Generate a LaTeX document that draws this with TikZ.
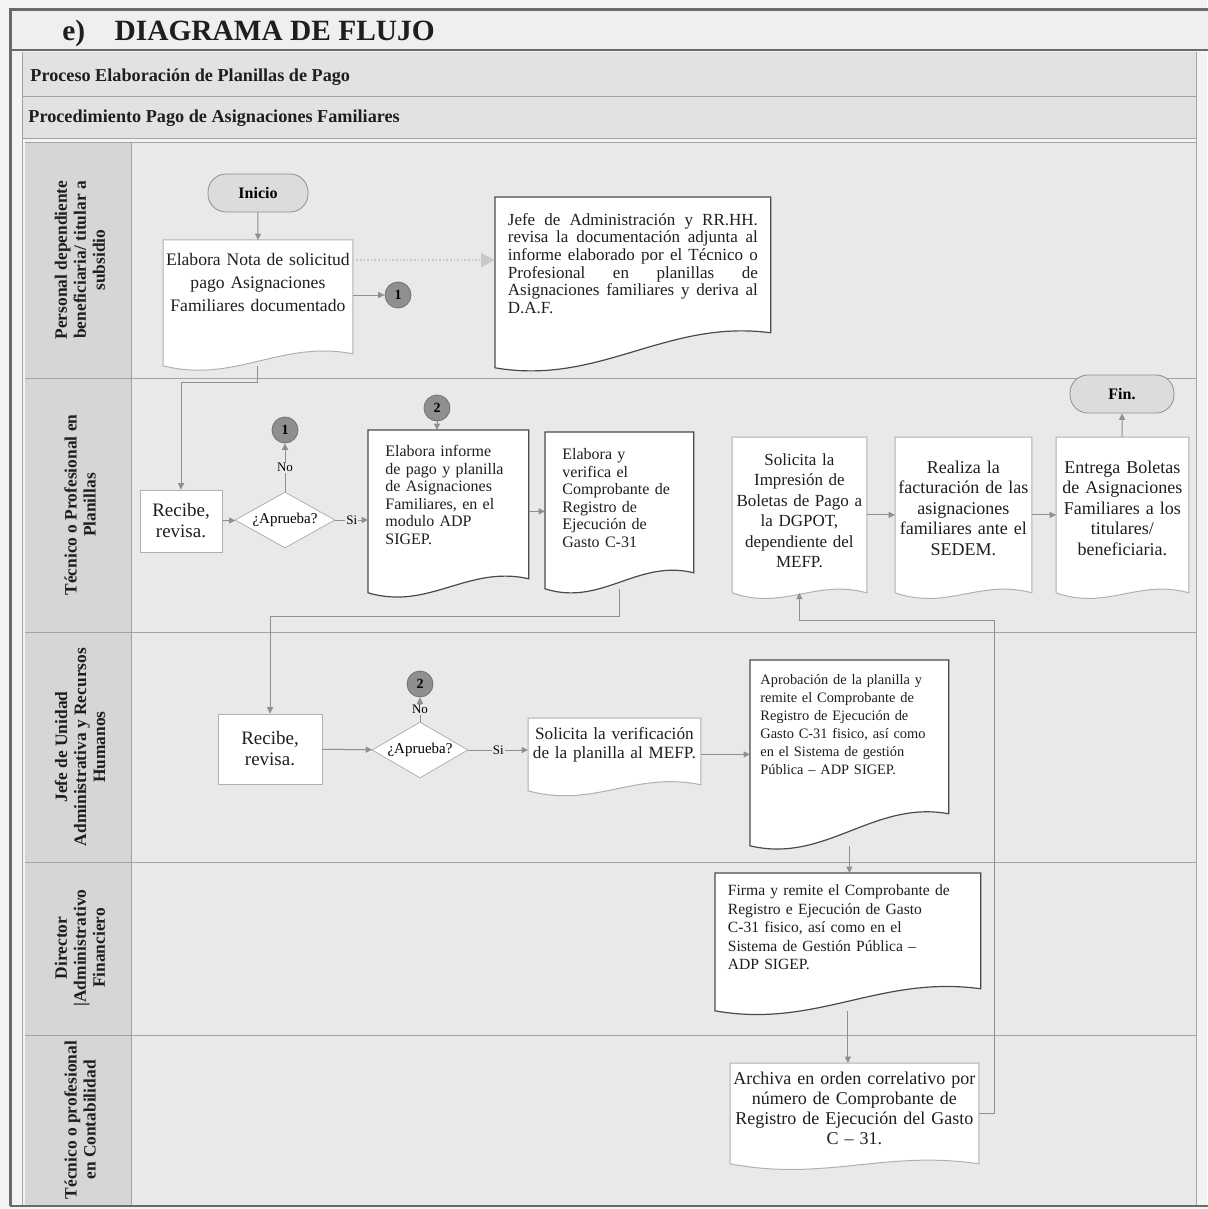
\documentclass[tikz,border=0pt]{standalone}
\usepackage{fontspec}
\setmainfont{Liberation Serif}
\usetikzlibrary{arrows.meta,positioning,calc,shapes.geometric}
\definecolor{pagebg}{HTML}{F3F3F3}
\definecolor{lanebg}{HTML}{E9E9E9}
\definecolor{headbg}{HTML}{D6D6D6}
\definecolor{rowbg}{HTML}{E2E2E2}
\definecolor{titlebg}{HTML}{EFEFEF}
\definecolor{rule}{HTML}{A3A3A3}
\definecolor{frame}{HTML}{6A6A6A}
\definecolor{ink}{HTML}{1E1E1E}
\definecolor{edge}{HTML}{4A4A4A}
\definecolor{soft}{HTML}{B0B0B0}
\definecolor{conn}{HTML}{8F8F8F}
\definecolor{term}{HTML}{DCDCDC}
\pgfdeclarelayer{lanes}
\pgfdeclarelayer{shapes}
\pgfsetlayers{lanes,shapes,main}
\newcommand{\fsz}[2]{\fontsize{#1}{#2}\selectfont}
% document outline behind a node: style, node, lift of the right end
\newcommand{\docu}[3]{%
  \draw[#1] (#2.north west) -- (#2.north east) -- ([yshift=#3]#2.south east)
    .. controls ($(#2.south west)!0.62!(#2.south east)+(0,#3+7pt)$)
    and ($(#2.south west)!0.38!(#2.south east)+(0,-9pt)$) .. (#2.south west) -- cycle;}

\begin{document}
\begin{tikzpicture}[x=0.5pt, y=-0.5pt,
  docdark/.style={draw=edge, fill=white, line width=0.6pt},
  doclight/.style={draw=soft, fill=white, line width=0.5pt},
  docbox/.style={inner sep=0pt, anchor=north west, text=ink},
  term/.style={draw=conn, fill=term, rounded corners=9pt, minimum width=50pt, minimum height=19pt, font=\bfseries\fsz{8}{9}},
  joint/.style={circle, draw=conn!80!black, fill=conn, minimum size=13pt, inner sep=0pt, font=\bfseries\fsz{7}{8}},
  plain/.style={draw=soft, fill=white, minimum width=41pt, minimum height=31pt, align=center, font=\fsz{9.5}{10.5}, text=ink},
  ask/.style={diamond, draw=soft, fill=white, inner sep=0pt, aspect=1.8, minimum width=50pt, minimum height=28pt, font=\fsz{7.5}{8}},
  arr/.style={-{Triangle[length=3.2pt,width=3pt]}, draw=conn, line width=0.5pt},
  faint/.style={-{Triangle[length=7pt,width=7pt]}, draw=soft!70, densely dotted, line width=0.8pt},
  lab/.style={font=\fsz{6.5}{7}, fill=lanebg, inner sep=0.5pt},
  lane/.style={rotate=90, align=center, font=\bfseries\fsz{8.7}{9.5}, text=ink},
  head/.style={anchor=west, inner sep=0pt, font=\bfseries\fsz{9.1}{10}, text=ink}]
  \useasboundingbox (0,0) rectangle (1207,1209);
  % sheet, rows and swimlanes
  \begin{pgfonlayer}{lanes}
    \fill[pagebg] (0,0) rectangle (1207,1209);
    \fill[titlebg] (10,10) rectangle (1210,50);
    \fill[rowbg] (22,52) rectangle (1196,138);
    \fill[lanebg] (131,142) rectangle (1196,1205);
    \fill[headbg] (25,142) rectangle (131,1205);
    \draw[rule] (22,96) -- (1196,96);
    \draw[rule] (22,138) -- (1196,138);
    \foreach \y in {142,378,632,862,1035}
      \draw[rule] (25,\y) -- (1196,\y);
    \draw[rule] (22,52) -- (22,1205);
    \draw[rule] (131,142) -- (131,1205);
    \draw[rule] (1196,52) -- (1196,1205);
    \draw[frame, line width=1.5pt] (10,1206) -- (10,10) -- (1210,10);
    \draw[frame, line width=1.2pt] (10,50) -- (1210,50);
    \draw[frame, line width=1pt] (10,1206) -- (1210,1206);
  \end{pgfonlayer}

  \node[head, font=\bfseries\fsz{14.7}{16}] (title) at (62,33) {e)\quad DIAGRAMA DE FLUJO};
  \node[head] (proc) at (30,77) {Proceso Elaboración de Planillas de Pago};
  \node[head] (pmto) at (28,118) {Procedimiento Pago de Asignaciones Familiares};

  \node[lane] (lp1) at (80,260) {Personal dependiente\\beneficiaria/ titular a\\subsidio};
  \node[lane] (lp2) at (80,505) {Técnico o Profesional en\\Planillas};
  \node[lane] (lp3) at (80,747) {Jefe de Unidad\\Administrativa y Recursos\\Humanos};
  \node[lane] (lp4) at (80,948) {Director\\|Administrativo\\Financiero};
  \node[lane] (lp5) at (80,1120) {Técnico o profesional\\en Contabilidad};

  % lane 1
  \node[term] (ini) at (258,193) {Inicio};
  \node[docbox, text width=94.5pt, text height=12.5pt, text depth=50pt, align=center, font=\fsz{8.8}{11.5}] (nota) at (163,240) {Elabora Nota de solicitud\\pago Asignaciones\\Familiares documentado};
  \node[joint] (j1) at (398,295) {1};
  \node[docbox, minimum width=137.5pt, text width=125pt, text height=14pt, text depth=71pt, align=justify, font=\fsz{8.5}{8.8}] (adm) at (495,197) {Jefe de Administración y RR.HH.\linebreak revisa la documentación adjunta al\linebreak informe elaborado por el Técnico o\linebreak Profesional en planillas de\linebreak Asignaciones familiares y deriva al\linebreak D.A.F.};

  % lane 2
  \node[plain] (rec1) at (181,521) {Recibe,\\revisa.};
  \node[ask] (ask1) at (285,520) {¿Aprueba?};
  \node[joint] (j1b) at (285,430) {1};
  \node[joint] (j2) at (437,408) {2};
  \node[docbox, minimum width=80pt, text width=63pt, text height=13pt, text depth=68pt, align=left, font=\fsz{8}{8.8}] (inf) at (368,430) {Elabora informe\\de pago y planilla\\de Asignaciones\\Familiares, en el\\modulo ADP\\SIGEP.};
  \node[docbox, minimum width=74pt, text width=57pt, text height=13.5pt, text depth=64.5pt, align=left, font=\fsz{8}{8.8}] (cmp) at (545,432) {Elabora y\\verifica el\\Comprobante de\\Registro de\\Ejecución de\\Gasto C-31};
  \node[docbox, text width=67pt, text height=14pt, text depth=63.5pt, align=center, font=\fsz{8.5}{10.2}] (imp) at (732,437) {Solicita la\\Impresión de\\Boletas de Pago a\\la DGPOT,\\dependiente del\\MEFP.};
  \node[docbox, minimum width=68pt, text width=66pt, text height=18pt, text depth=59.5pt, align=center, font=\fsz{9}{10.2}] (fac) at (895,437) {Realiza la\\facturación de las\\asignaciones\\familiares ante el\\SEDEM.};
  \node[docbox, minimum width=66pt, text width=64pt, text height=18pt, text depth=59.5pt, align=center, font=\fsz{9}{10.2}] (ent) at (1056,437) {Entrega Boletas\\de Asignaciones\\Familiares a los\\titulares/\\beneficiaria.};
  \node[term, minimum width=52pt] (fin) at (1122,394) {Fin.};

  % lane 3
  \node[plain, minimum width=52pt, minimum height=35pt] (rec2) at (270,749) {Recibe,\\revisa.};
  \node[ask, minimum width=48pt] (ask2) at (420,750) {¿Aprueba?};
  \node[joint] (j2b) at (420,684) {2};
  \node[docbox, text width=86pt, text height=10.5pt, text depth=25.5pt, align=center, font=\fsz{8.6}{9.5}] (ver) at (528,718) {Solicita la verificación\\de la planilla al MEFP.};
  \node[docbox, minimum width=99pt, text width=89pt, text height=12pt, text depth=80.5pt, align=left, font=\fsz{7.2}{9}] (apr) at (750,660) {Aprobación de la planilla y\\remite el Comprobante de\\Registro de Ejecución de\\Gasto C-31 fisico, así como\\en el Sistema de gestión\\Pública – ADP SIGEP.};

  % lanes 4 and 5
  \node[docbox, minimum width=132.5pt, text width=120pt, text height=11pt, text depth=57.5pt, align=left, font=\fsz{7.8}{9.3}] (fir) at (715,873) {Firma y remite el Comprobante de\\Registro e Ejecución de Gasto\\C-31 fisico, así como en el\\Sistema de Gestión Pública –\\ADP SIGEP.};
  \node[docbox, minimum width=124pt, text width=122pt, text height=10.5pt, text depth=39.5pt, align=center, font=\fsz{9}{10}] (arc) at (730,1063) {Archiva en orden correlativo por\\número de Comprobante de\\Registro de Ejecución del Gasto\\C – 31.};

  \begin{pgfonlayer}{shapes}
    \docu{doclight}{nota}{6pt}
    \docu{docdark}{adm}{17.5pt}
    \docu{docdark}{inf}{7pt}
    \docu{docdark}{cmp}{8pt}
    \docu{doclight}{imp}{0pt}
    \docu{doclight}{fac}{0pt}
    \docu{doclight}{ent}{0pt}
    \docu{doclight}{ver}{3pt}
    \docu{docdark}{apr}{16pt}
    \docu{docdark}{fir}{11pt}
    \docu{doclight}{arc}{0pt}
  \end{pgfonlayer}

  % connectors
  \draw[arr] (ini) -- (nota);
  \coordinate (np) at ($(nota.north east)!0.16!(nota.south east)$);
  \draw[faint] (np) -- (np -| adm.west);
  \draw[arr] (nota.east |- j1) -- (j1);
  \draw[arr] (nota.south) -- ++(0,17) -| (rec1.north);
  \draw[arr] (rec1) -- (ask1);
  \draw[arr] (ask1) -- node[lab]{No} (j1b);
  \draw[arr] (ask1) -- node[lab]{Si} (ask1 -| inf.west);
  \draw[arr] (j2) -- (j2 |- inf.north);
  \draw[arr] (inf) -- (inf -| cmp.west);
  \draw[arr] (imp) -- (imp -| fac.west);
  \draw[arr] (fac) -- (fac -| ent.west);
  \draw[arr] (ent) -- (fin);
  \draw[arr] (cmp.south) -- ++(0,28) -| (rec2.north);
  \draw[arr] (rec2) -- (ask2);
  \draw[arr] (ask2) -- node[lab]{No} (j2b);
  \draw[arr] (ask2) -- node[lab]{Si} (ask2 -| ver.west);
  \draw[arr] (ver) -- (ver -| apr.west);
  \draw[arr] (apr.south) -- (apr.south |- fir.north);
  \draw[arr] (fir.south) -- (fir.south |- arc.north);
  \coordinate (back) at (994,620);
  \draw[arr] (arc.east) -| (back) -| (imp.south);
\end{tikzpicture}
\end{document}
